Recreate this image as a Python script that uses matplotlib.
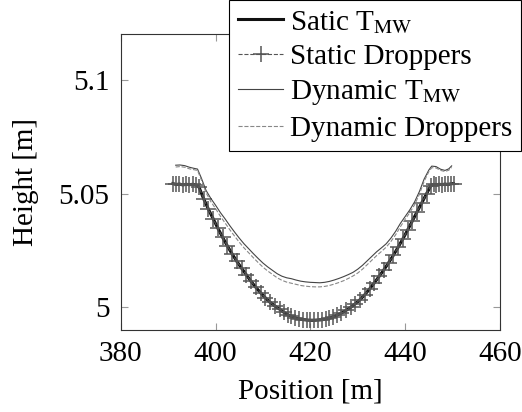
import matplotlib
matplotlib.use('Agg')
import matplotlib.pyplot as plt

plt.rcParams['font.family'] = 'Liberation Serif'
plt.rcParams['mathtext.fontset'] = 'stix'
plt.rcParams['font.size'] = 21

# static solution (wire height along the span)
x_static = [391.0, 391.7, 392.4, 393.1, 393.8, 394.5, 395.2, 395.9, 396.5,
            397.5, 398.5, 399.5, 400.5, 401.5, 402.5, 403.5, 404.5, 405.5,
            406.5, 407.5, 408.5, 409.5, 410.5, 411.5, 412.5, 413.5, 414.4,
            415.2, 416.0, 416.8, 417.6, 418.4, 419.2, 420.0, 420.8, 421.6,
            422.4, 423.2, 424.0, 424.8, 425.6, 426.5, 427.5, 428.5, 429.5,
            430.5, 431.5, 432.5, 433.5, 434.5, 435.5, 436.5, 437.5, 438.5,
            439.5, 440.5, 441.5, 442.5, 443.5, 444.5, 445.4, 446.0, 446.6,
            447.2, 447.8, 448.4, 449.0, 449.6, 450.2]
y_static = [5.0545, 5.0541, 5.0543, 5.0539, 5.0542, 5.0540, 5.0542, 5.0539, 5.0530,
            5.0478, 5.0432, 5.0390, 5.0348, 5.0308, 5.0270, 5.0235, 5.0202, 5.0172,
            5.0143, 5.0114, 5.0088, 5.0064, 5.0042, 5.0022, 5.0006, 4.9992, 4.9978,
            4.9968, 4.9960, 4.9954, 4.9949, 4.9946, 4.9944, 4.9943, 4.9943, 4.9944,
            4.9945, 4.9948, 4.9952, 4.9958, 4.9965, 4.9974, 4.9986, 5.0000, 5.0016,
            5.0034, 5.0056, 5.0081, 5.0108, 5.0136, 5.0165, 5.0196, 5.0229, 5.0264,
            5.0301, 5.0340, 5.0380, 5.0420, 5.0460, 5.0500, 5.0535, 5.0541, 5.0539,
            5.0542, 5.0540, 5.0543, 5.0541, 5.0544, 5.0545]

# dynamic solution
x_dyn = [391.6, 392.5, 393.5, 394.5, 395.5, 396.2, 397.0, 398.0, 399.0, 400.0,
         401.0, 402.0, 403.0, 404.0, 405.0, 406.0, 407.0, 408.0, 409.0, 410.0,
         411.0, 412.0, 413.0, 414.0, 415.0, 416.0, 417.0, 418.0, 419.0, 420.0,
         421.0, 422.0, 423.0, 424.0, 425.0, 426.0, 427.0, 428.0, 429.0, 430.0,
         431.0, 432.0, 433.0, 434.0, 435.0, 436.0, 437.0, 438.0, 439.0, 440.0,
         441.0, 442.0, 443.0, 444.0, 445.0, 445.6, 446.5, 447.5, 448.4, 449.2, 449.8]
y_dyn_tmw = [5.0626, 5.0627, 5.0624, 5.0617, 5.0612, 5.0609, 5.0570, 5.0515, 5.0480, 5.0450,
             5.0418, 5.0390, 5.0360, 5.0332, 5.0305, 5.0280, 5.0258, 5.0236, 5.0215, 5.0195,
             5.0178, 5.0163, 5.0148, 5.0137, 5.0130, 5.0126, 5.0120, 5.0115, 5.0112, 5.0110,
             5.0109, 5.0108, 5.0110, 5.0114, 5.0120, 5.0127, 5.0135, 5.0144, 5.0154, 5.0168,
             5.0185, 5.0205, 5.0225, 5.0245, 5.0262, 5.0280, 5.0305, 5.0335, 5.0370, 5.0400,
             5.0430, 5.0465, 5.0510, 5.0565, 5.0605, 5.0622, 5.0620, 5.0608, 5.0603, 5.0610, 5.0623]
y_dyn_drop = [5.0618, 5.0620, 5.0617, 5.0610, 5.0606, 5.0603, 5.0562, 5.0505, 5.0466, 5.0435,
              5.0402, 5.0372, 5.0342, 5.0314, 5.0287, 5.0262, 5.0240, 5.0218, 5.0197, 5.0177,
              5.0160, 5.0145, 5.0130, 5.0119, 5.0111, 5.0106, 5.0101, 5.0096, 5.0093, 5.0091,
              5.0090, 5.0090, 5.0092, 5.0096, 5.0102, 5.0109, 5.0117, 5.0127, 5.0138, 5.0151,
              5.0168, 5.0188, 5.0208, 5.0228, 5.0246, 5.0265, 5.0290, 5.0320, 5.0355, 5.0388,
              5.0418, 5.0452, 5.0498, 5.0555, 5.0598, 5.0615, 5.0614, 5.0603, 5.0598, 5.0604, 5.0616]

fig = plt.figure(figsize=(5.22, 4.12), dpi=100)
ax = fig.add_axes([120.7/522, 82/412, 379.3/522, 296/412])

ax.plot(x_static, y_static, '-', color='#111111', lw=2.2, label='Satic T$_{\\mathrm{MW}}$')
ax.plot(x_static, y_static, '--', color='#555555', lw=0.8, marker='+', ms=11, mew=1.1,
        label='Static Droppers')
ax.plot(x_dyn, y_dyn_tmw, '-', color='#444444', lw=0.8, label='Dynamic T$_{\\mathrm{MW}}$')
ax.plot(x_dyn, y_dyn_drop, '--', color='#888888', lw=0.8, label='Dynamic Droppers')

ax.set_xlim(380, 460)
ax.set_ylim(4.99, 5.1204)
ax.set_xticks([380, 400, 420, 440, 460])
ax.set_yticks([5.0, 5.05, 5.1])
ax.set_yticklabels(['5', '5.05', '5.1'])
ax.tick_params(direction='in', top=True, right=True, length=5, color='#999999', pad=8)
for s in ax.spines.values():
    s.set_color('#333333')
    s.set_linewidth(0.8)

ax.set_xlabel('Position [m]', labelpad=8)
ax.set_ylabel('Height [m]', labelpad=14)

leg = fig.legend(loc='upper right', bbox_to_anchor=(0.999, 1.0), bbox_transform=fig.transFigure,
                 fancybox=False, edgecolor='black', framealpha=1, borderaxespad=0.0,
                 handlelength=1.55, handletextpad=0.25, labelspacing=0.28, borderpad=0.3,
                 numpoints=1)
leg.get_frame().set_linewidth(0.8)

fig.savefig('out.png', dpi=100)
